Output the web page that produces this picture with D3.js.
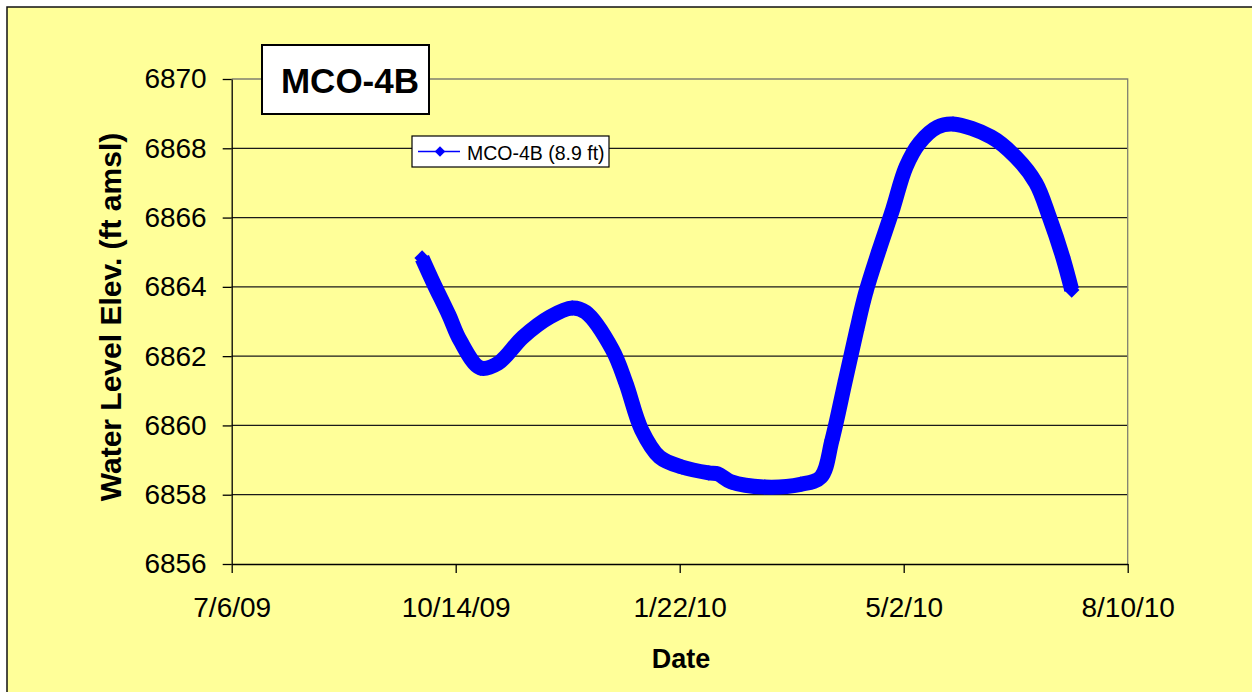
<!DOCTYPE html>
<html>
<head>
<meta charset="utf-8">
<script src="https://cdnjs.cloudflare.com/ajax/libs/d3/7.8.5/d3.min.js"></script>
<style>
  body { margin: 0; background: #fff; }
  svg text { font-family: Arial, "Liberation Sans", sans-serif; fill: #000; }
</style>
</head>
<body>
<svg></svg>
<script>
// water level readings
const dates = [
  "2009-09-29", "2009-10-04", "2009-10-11", "2009-10-16", "2009-10-25",
  "2009-11-02", "2009-11-13", "2009-11-25", "2009-12-05", "2009-12-11",
  "2009-12-23", "2009-12-29", "2010-01-05", "2010-01-13", "2010-01-23",
  "2010-02-04", "2010-02-08", "2010-02-14", "2010-03-01", "2010-03-17",
  "2010-03-26", "2010-03-31", "2010-04-06", "2010-04-11", "2010-04-15",
  "2010-04-21", "2010-04-27", "2010-05-03", "2010-05-09", "2010-05-17",
  "2010-05-24", "2010-06-10", "2010-06-21", "2010-06-30", "2010-07-06",
  "2010-07-12", "2010-07-16"
];
const levels = [
  6864.83, 6864.12, 6863.18, 6862.45, 6861.66,
  6861.80, 6862.55, 6863.13, 6863.39, 6863.27,
  6862.18, 6861.22, 6859.87, 6859.09, 6858.80,
  6858.63, 6858.60, 6858.37, 6858.22, 6858.30,
  6858.51, 6859.58, 6861.31, 6862.75, 6863.82,
  6865.06, 6866.22, 6867.46, 6868.15, 6868.61,
  6868.70, 6868.33, 6867.75, 6867.00, 6866.02,
  6864.86, 6863.91
];
const xTickLabels = ["7/6/09", "10/14/09", "1/22/10", "5/2/10", "8/10/10"];
const yTicks = [6856, 6858, 6860, 6862, 6864, 6866, 6868, 6870];
const chartTitle = "MCO-4B";
const seriesName = "MCO-4B (8.9 ft)";

let width = 1252;
let height = 692;
let svg = d3
  .select("svg")
  .attr("width", width)
  .attr("height", height);

const parseDate = d3.timeParse("%Y-%m-%d");
const parseTick = d3.timeParse("%m/%d/%y");
const tickDates = xTickLabels.map(parseTick);
const data = dates.map((d, i) => ({ date: parseDate(d), level: levels[i] }));

const plotLeft = 231.7, plotRight = 1127.7, plotTop = 79, plotBottom = 564;

let x = d3.scaleTime()
  .domain([tickDates[0], tickDates[tickDates.length - 1]])
  .range([plotLeft, plotRight]);
let y = d3.scaleLinear()
  .domain([yTicks[0], yTicks[yTicks.length - 1]])
  .range([plotBottom, plotTop]);

// chart area
svg.append("rect")
  .attr("x", 7).attr("y", 7)
  .attr("width", 1260).attr("height", 700)
  .attr("fill", "#FFFF99")
  .attr("stroke", "#111")
  .attr("stroke-width", 1.5);

// gridlines
svg.append("g")
  .selectAll("line")
  .data(yTicks.slice(1, -1))
  .enter()
  .append("line")
  .attr("x1", plotLeft).attr("x2", plotRight)
  .attr("y1", d => y(d)).attr("y2", d => y(d))
  .attr("stroke", "#1a1a1a")
  .attr("stroke-width", 1.3);

// plot area border (top + right)
svg.append("path")
  .attr("d", `M${plotLeft},${plotTop}H${plotRight}V${plotBottom}`)
  .attr("fill", "none")
  .attr("stroke", "#808070")
  .attr("stroke-width", 1.3);

// axes
let yAxis = svg.append("g")
  .attr("transform", `translate(${plotLeft},0)`)
  .call(d3.axisLeft(y).tickValues(yTicks).tickFormat(d3.format("d"))
    .tickSize(9).tickSizeOuter(0).tickPadding(16));
yAxis.selectAll("text").style("font-size", "28px");

let xAxis = svg.append("g")
  .attr("transform", `translate(0,${plotBottom})`)
  .call(d3.axisBottom(x).tickValues(tickDates)
    .tickFormat((d, i) => xTickLabels[i]).tickSize(9).tickSizeOuter(0));
xAxis.selectAll("text")
  .style("font-size", "28px")
  .attr("y", 53)
  .attr("dy", null);

svg.selectAll(".domain, .tick line")
  .attr("stroke", "#000")
  .attr("stroke-width", 1.3);

// series
let line = d3.line()
  .x(d => x(d.date))
  .y(d => y(d.level))
  .curve(d3.curveCatmullRom.alpha(0.5));

svg.append("path")
  .datum(data)
  .attr("d", line)
  .attr("fill", "none")
  .attr("stroke", "#0000FF")
  .attr("stroke-width", 15)
  .attr("stroke-linejoin", "round");

let diamond = d3.symbol(d3.symbolSquare, 120);
svg.append("g")
  .selectAll("path")
  .data(data)
  .enter()
  .append("path")
  .attr("d", diamond)
  .attr("transform", d => `translate(${x(d.date)},${y(d.level)}) rotate(45)`)
  .attr("fill", "#0000FF");

// axis titles
svg.append("text")
  .attr("transform", "translate(121,317) rotate(-90)")
  .attr("text-anchor", "middle")
  .style("font-size", "30px")
  .style("font-weight", "bold")
  .text("Water Level Elev. (ft amsl)");

svg.append("text")
  .attr("x", 681).attr("y", 668)
  .attr("text-anchor", "middle")
  .style("font-size", "27px")
  .style("font-weight", "bold")
  .text("Date");

// title box
svg.append("rect")
  .attr("x", 262).attr("y", 45)
  .attr("width", 167).attr("height", 69)
  .attr("fill", "#fff")
  .attr("stroke", "#000")
  .attr("stroke-width", 2);
svg.append("text")
  .attr("x", 350).attr("y", 93)
  .attr("text-anchor", "middle")
  .style("font-size", "35px")
  .style("font-weight", "bold")
  .text(chartTitle);

// legend
let legend = svg.append("g");
legend.append("rect")
  .attr("x", 412).attr("y", 136)
  .attr("width", 197).attr("height", 31)
  .attr("fill", "#fff")
  .attr("stroke", "#000")
  .attr("stroke-width", 1.2);
legend.append("line")
  .attr("x1", 418).attr("x2", 460)
  .attr("y1", 151.5).attr("y2", 151.5)
  .attr("stroke", "#0000FF")
  .attr("stroke-width", 1.5);
legend.append("path")
  .attr("d", d3.symbol(d3.symbolSquare, 55))
  .attr("transform", "translate(440,151.5) rotate(45)")
  .attr("fill", "#0000FF");
legend.append("text")
  .attr("x", 467).attr("y", 160)
  .style("font-size", "19.5px")
  .text(seriesName);
</script>
</body>
</html>
